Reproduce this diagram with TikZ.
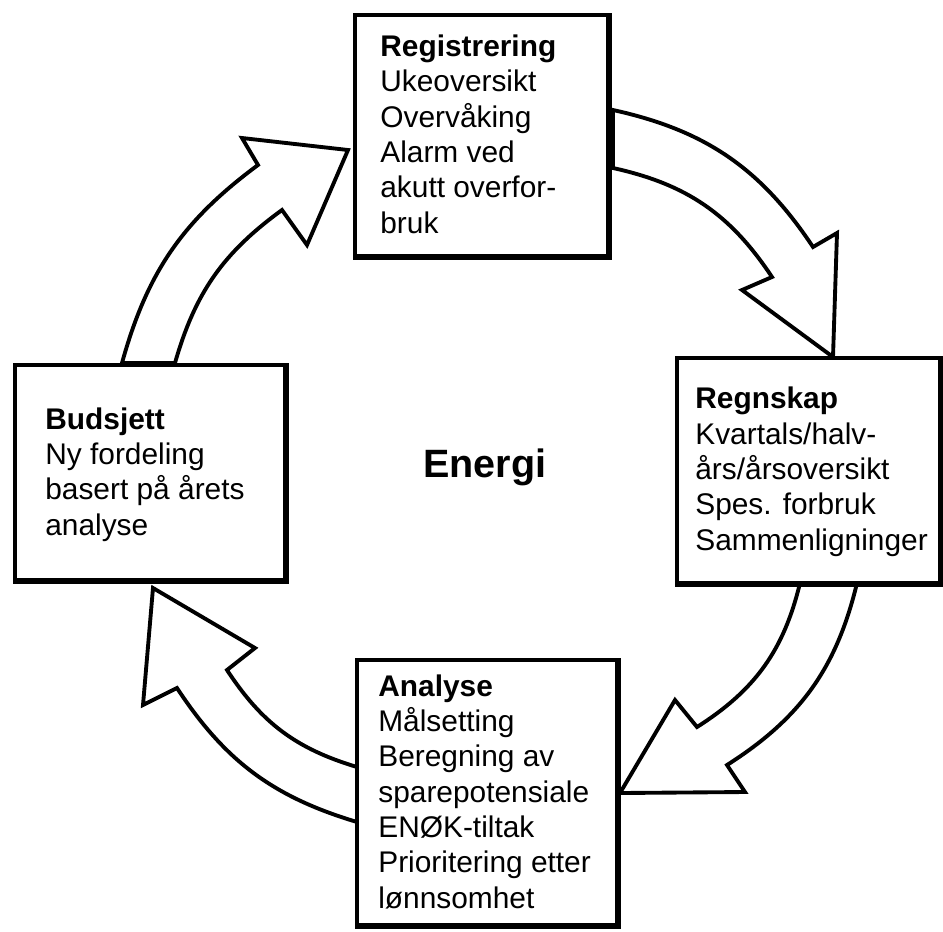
\documentclass[tikz,border=0pt]{standalone}
\usepackage{fontspec}
\setmainfont{Liberation Sans}
\begin{document}
\begin{tikzpicture}[x=0.02cm,y=-0.02cm,
  boxstyle/.style={draw=black,line width=1.8pt,fill=white,inner sep=0pt},
  heavyedge/.style={line width=3pt,line join=miter},
  bigarrow/.style={draw=black,line width=2.2pt,fill=white,line join=miter},
  boxtext/.style={anchor=base west,align=left,inner sep=0pt,font=\fontsize{17}{20.1}\selectfont},
  bigtext/.style={anchor=base west,inner sep=0pt,font=\fontsize{22.5}{26}\selectfont\bfseries}]
\useasboundingbox (0,0) rectangle (943,931);
\fill[white] (0,0) rectangle (943,931);

% arrows (clockwise cycle)
\draw[bigarrow] (122,363) to[bend left=19] (258,165) -- (242,138) -- (348,150) -- (307,245) -- (282,210) to[bend right=19] (175,363) -- cycle;
\draw[bigarrow] (613,110) to[bend left=22] (813,247) -- (837,233) -- (833,357) -- (742,290) -- (772,277) to[bend right=22] (613,168) -- cycle;
\draw[bigarrow] (857,583) to[bend left=22] (727,765) -- (745,792) -- (620,793) -- (675,700) -- (697,727) to[bend right=22] (800,583) -- cycle;
\draw[bigarrow] (357,822) to[bend left=20] (177,688) -- (143,705) -- (153,588) -- (255,648) -- (227,670) to[bend right=20] (357,767) -- cycle;

% boxes
\node[boxstyle,minimum width=5.06cm,minimum height=4.82cm] (reg) at (481.5,135.5) {};
\node[boxstyle,minimum width=5.26cm,minimum height=4.5cm] (regn) at (808.5,470.5) {};
\node[boxstyle,minimum width=5.4cm,minimum height=4.3cm] (bud) at (150,472.5) {};
\node[boxstyle,minimum width=5.2cm,minimum height=5.3cm] (ana) at (487,792.5) {};
\foreach \b in {reg,regn,bud,ana}
  \draw[heavyedge] (\b.north east) -- (\b.south east) -- (\b.south west);

% texts (anchored at the baseline of their last line)
\node[boxtext] (regtxt) at (380,233) {\textbf{Registrering}\\Ukeoversikt\\Overvåking\\Alarm ved\\akutt overfor-\\bruk};
\node[boxtext] (regntxt) at (695,550) {\textbf{Regnskap}\\Kvartals/halv-\\års/årsoversikt\\Spes. forbruk\\Sammenligninger};
\node[boxtext] (budtxt) at (45,535) {\textbf{Budsjett}\\Ny fordeling\\basert på årets\\analyse};
\node[boxtext] (anatxt) at (378,908) {\textbf{Analyse}\\Målsetting\\Beregning av\\sparepotensiale\\ENØK-tiltak\\Prioritering etter\\lønnsomhet};
\node[bigtext] (energi) at (423,477) {Energi};
\end{tikzpicture}
\end{document}
